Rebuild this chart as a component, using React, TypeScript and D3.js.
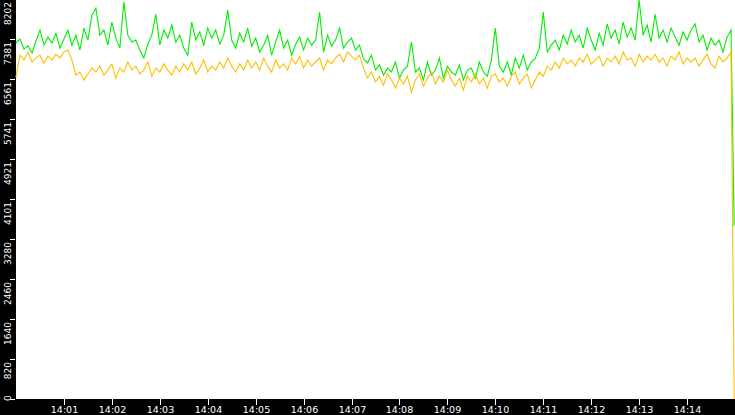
import React, { useEffect, useRef } from "react";
import * as d3 from "d3";

const settings = {
  width: 735,
  height: 415,
  left: 16,
  bottom: 399,
};

// one sample every 5 seconds, 14:00:00 -> 14:15:00
const startTime = new Date(2020, 0, 1, 14, 0, 0);
const endTime = new Date(2020, 0, 1, 14, 15, 0);
const stepSeconds = 5;

const yTickValues = [0, 820, 1640, 2460, 3280, 4101, 4921, 5741, 6561, 7381, 8202];
const yMax = 8202;

const greenValues = [
  7300, 7380, 7175, 7240, 7095, 7340, 7565, 7260, 7420, 7300,
  7500, 7195, 7380, 7565, 7255, 7460, 7155, 7605, 7360, 7870,
  8015, 7460, 7565, 7255, 7730, 7400, 7195, 8140, 7460, 7320,
  7360, 7155, 6990, 7275, 7460, 7890, 7260, 7565, 7400, 7670,
  7320, 7460, 7195, 7050, 7730, 7360, 7525, 7255, 7605, 7400,
  7565, 7275, 7460, 7975, 7360, 7195, 7500, 7320, 7605, 7235,
  7400, 7115, 7255, 7460, 7050, 7320, 7565, 7195, 7360, 7050,
  7275, 7420, 7155, 7400, 7255, 7360, 7935, 7115, 7460, 7235,
  7360, 7605, 7195, 7320, 7400, 7155, 7255, 6970, 6890, 7050,
  6745, 6850, 6640, 6785, 6705, 6910, 6580, 6745, 6825, 7320,
  6705, 6785, 6540, 6910, 6640, 6745, 6990, 6580, 6825, 6705,
  6640, 6850, 6540, 6745, 6785, 6580, 6910, 6705, 6620, 6950,
  7605, 6825, 6705, 6910, 6640, 6990, 6785, 7050, 6745, 6910,
  6990, 7195, 7935, 7115, 7255, 7360, 7155, 7460, 7275, 7565,
  7320, 7460, 7195, 7605, 7360, 7155, 7500, 7255, 7690, 7400,
  7565, 7275, 7730, 7420, 7605, 7360, 8180, 7460, 7670, 7320,
  7890, 7400, 7565, 7320, 7605, 7420, 7255, 7525, 7360, 7565,
  7690, 7320, 7460, 7155, 7400, 7255, 7360, 7115, 7420, 7565,
  3550,
];

const orangeValues = [
  6600, 7050, 6950, 7115, 6910, 6990, 7050, 6890, 7030, 6950,
  7070, 6990, 7115, 7155, 6950, 6640, 6705, 6540, 6665, 6785,
  6705, 6830, 6640, 6745, 6870, 6580, 6785, 6705, 6910, 6745,
  6825, 6665, 6745, 6910, 6620, 6785, 6705, 6870, 6745, 6640,
  6825, 6705, 6870, 6745, 6910, 6665, 6785, 6950, 6705, 6825,
  6745, 6910, 6785, 6990, 6825, 6705, 6870, 6745, 6950, 6785,
  6910, 6745, 6990, 6825, 6705, 6950, 6785, 6870, 6745, 6990,
  6870, 7030, 6785, 6950, 6825, 6910, 6990, 6745, 6950, 6870,
  6990, 7070, 6910, 7115, 7030, 6950, 7050, 6785, 6580, 6705,
  6500, 6620, 6435, 6665, 6540, 6375, 6580, 6460, 6620, 6295,
  6540, 6665, 6415, 6580, 6705, 6460, 6620, 6500, 6745, 6540,
  6415, 6580, 6335, 6620, 6500, 6665, 6460, 6580, 6375, 6620,
  6665, 6500, 6580, 6415, 6620, 6705, 6460, 6580, 6665, 6375,
  6540, 6705, 6620, 6825, 6745, 6910, 6785, 6990, 6870, 6950,
  6825, 6990, 6910, 7070, 6870, 6950, 7030, 6825, 6990, 6910,
  7030, 6870, 7115, 6950, 6990, 6825, 7070, 6910, 7030, 6950,
  7070, 6910, 6990, 6825, 7030, 6950, 7115, 6870, 6990, 6910,
  6990, 6825, 6950, 7070, 6870, 6785, 7030, 6910, 6990, 7115,
  0,
];

const series = [
  { name: "green", color: "#00ee00", values: greenValues },
  { name: "orange", color: "#ffbf00", values: orangeValues },
];

export default function App() {
  const svgRef = useRef(null);

  useEffect(() => {
    const svg = d3.select(svgRef.current);
    svg.selectAll("*").remove();

    const x = d3
      .scaleTime()
      .domain([startTime, endTime])
      .range([settings.left, settings.width]);

    const y = d3
      .scaleLinear()
      .domain([0, yMax])
      .range([settings.bottom, -1]);

    // last sample is the drop at the right edge
    const timeOf = (i: number, n: number) =>
      i === n - 1
        ? new Date(endTime.getTime() - 1000)
        : new Date(startTime.getTime() + i * stepSeconds * 1000);

    // background + black axis strips
    svg
      .append("rect")
      .attr("width", settings.width)
      .attr("height", settings.height)
      .attr("fill", "#fff");
    svg
      .append("rect")
      .attr("width", settings.left)
      .attr("height", settings.height)
      .attr("fill", "#000");
    svg
      .append("rect")
      .attr("y", settings.bottom)
      .attr("width", settings.width)
      .attr("height", settings.height - settings.bottom)
      .attr("fill", "#000");

    // lines
    svg
      .append("g")
      .selectAll("path")
      .data(series)
      .join("path")
      .attr("d", (s) =>
        d3
          .line<number>()
          .x((d, i) => x(timeOf(i, s.values.length)))
          .y((d) => y(d))(s.values)
      )
      .attr("fill", "none")
      .attr("stroke", (s) => s.color)
      .attr("stroke-width", 1.1);

    // y axis
    const yAxis = svg.append("g");
    yAxis
      .selectAll("line")
      .data(yTickValues)
      .join("line")
      .attr("x1", 10)
      .attr("x2", 15)
      .attr("y1", (d) => Math.round(y(d)) + 0.5)
      .attr("y2", (d) => Math.round(y(d)) + 0.5)
      .attr("stroke", "#fff");

    yAxis
      .selectAll("text")
      .data(yTickValues)
      .join("text")
      .attr("font-family", "DejaVu Sans")
      .attr("font-size", 9)
      .attr("fill", "#fff")
      .each(function (d) {
        const ty = Math.round(y(d));
        const len = String(d).length * 5.8;
        const clamp = ty + 3 + len > settings.bottom + 2;
        d3.select(this)
          .attr("text-anchor", clamp ? "start" : "end")
          .attr(
            "transform",
            `translate(10.5,${clamp ? settings.bottom + 2 : ty + 3}) rotate(-90)`
          );
      })
      .text((d) => d);

    // x axis
    const xTicks = x
      .ticks(d3.timeMinute.every(1)!)
      .filter((t) => t > startTime && t < endTime);
    const xAxis = svg.append("g");
    xAxis
      .selectAll("line")
      .data(xTicks)
      .join("line")
      .attr("x1", (d) => Math.round(x(d)) + 0.5)
      .attr("x2", (d) => Math.round(x(d)) + 0.5)
      .attr("y1", settings.bottom)
      .attr("y2", settings.bottom + 6)
      .attr("stroke", "#fff");

    xAxis
      .selectAll("text")
      .data(xTicks)
      .join("text")
      .attr("x", (d) => Math.round(x(d)) + 0.5)
      .attr("y", 413)
      .attr("text-anchor", "middle")
      .attr("font-family", "DejaVu Sans")
      .attr("font-size", 9.5)
      .attr("fill", "#fff")
      .text((d) => d3.timeFormat("%H:%M")(d));
  }, []);

  return (
    <svg
      ref={svgRef}
      width={settings.width}
      height={settings.height}
      style={{ position: "absolute", left: 0, top: 0, display: "block" }}
    ></svg>
  );
}
